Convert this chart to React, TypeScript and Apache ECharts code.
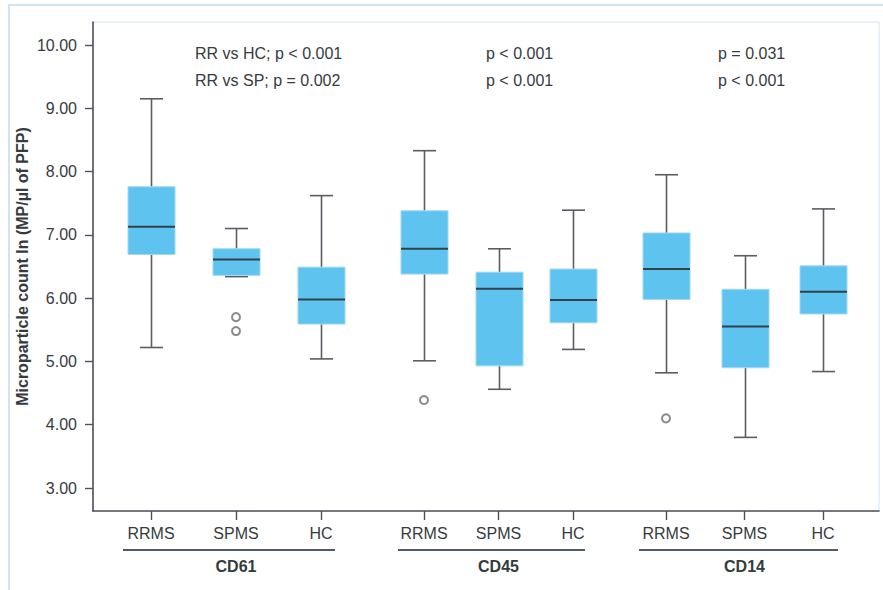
import React, { useEffect, useRef } from "react";
import * as echarts from "echarts";

// ---- data ----
const categories = ["RRMS", "SPMS", "HC"];
const groups = ["CD61", "CD45", "CD14"];
// [min, Q1, median, Q3, max] per category
const cd61Box = [
  [5.22, 6.69, 7.13, 7.76, 9.15],
  [6.34, 6.36, 6.61, 6.78, 7.1],
  [5.04, 5.59, 5.98, 6.49, 7.62],
];
const cd45Box = [
  [5.01, 6.38, 6.78, 7.38, 8.33],
  [4.56, 4.93, 6.15, 6.41, 6.78],
  [5.19, 5.61, 5.97, 6.46, 7.39],
];
const cd14Box = [
  [4.82, 5.98, 6.46, 7.03, 7.95],
  [3.8, 4.9, 5.55, 6.14, 6.67],
  [4.84, 5.75, 6.1, 6.51, 7.41],
];
// outliers: [category, value]
const cd61Outliers: [string, number][] = [["SPMS", 5.7], ["SPMS", 5.48]];
const cd45Outliers: [string, number][] = [["RRMS", 4.39]];
const cd14Outliers: [string, number][] = [["RRMS", 4.1]];
const yTicks = { min: 3, max: 10, interval: 1 };
const yAxisTitle = "Microparticle count ln (MP/µl of PFP)";
const pValueLines = [
  ["RR vs HC; p < 0.001", "RR vs SP; p = 0.002"],
  ["p < 0.001", "p < 0.001"],
  ["p = 0.031", "p < 0.001"],
];

const boxes = [cd61Box, cd45Box, cd14Box];
const outliers = [cd61Outliers, cd45Outliers, cd14Outliers];

// ---- layout / style ----
const FONT = "'Liberation Sans', Arial, Helvetica, sans-serif";
const FS = 16;
const TEXT = "#353b40";
const AXIS = "#4f5257";
const BOX_FILL = "#5ec3ee";
const BOX_STROKE = "#9fd8f4";
const WHISKER = "#5a5d61";
const MEDIAN = "#33414b";
const FRAME = "#d3e3f2";

const PLOT = { left: 93, top: 22, right: 879, bottom: 511 };
const YGRID = { top: 45, bottom: 488 };
const subGrids = [
  { left: 108.5, width: 255 },
  { left: 386.75, width: 223.5 },
  { left: 626.75, width: 235.5 },
];
const underlines = [
  [123, 335],
  [398, 585],
  [639, 838],
];
const annotationX = [195, 486, 718];
const annotationY = [53, 80.5];

const renderBox = (_params: any, api: any) => {
  const x = api.value(0);
  const lo = api.coord([x, api.value(1)]);
  const q1 = api.coord([x, api.value(2)]);
  const med = api.coord([x, api.value(3)]);
  const q3 = api.coord([x, api.value(4)]);
  const hi = api.coord([x, api.value(5)]);
  const cx = Math.round(lo[0]) + 0.5;
  const bw = 47;
  const cw = 23;
  const ws = { stroke: WHISKER, lineWidth: 1.6 };
  return {
    type: "group",
    children: [
      { type: "line", shape: { x1: cx, y1: hi[1], x2: cx, y2: q3[1] }, style: ws },
      { type: "line", shape: { x1: cx, y1: q1[1], x2: cx, y2: lo[1] }, style: ws },
      { type: "line", shape: { x1: cx - cw / 2, y1: hi[1], x2: cx + cw / 2, y2: hi[1] }, style: ws },
      { type: "line", shape: { x1: cx - cw / 2, y1: lo[1], x2: cx + cw / 2, y2: lo[1] }, style: ws },
      {
        type: "rect",
        shape: { x: cx - bw / 2, y: q3[1], width: bw, height: q1[1] - q3[1] },
        style: { fill: BOX_FILL, stroke: BOX_STROKE, lineWidth: 1 },
      },
      {
        type: "line",
        shape: { x1: cx - bw / 2, y1: med[1], x2: cx + bw / 2, y2: med[1] },
        style: { stroke: MEDIAN, lineWidth: 2 },
      },
    ],
  };
};

export default function App() {
  const ref = useRef<HTMLDivElement>(null);
  useEffect(() => {
    if (!ref.current) return;
    const chart = echarts.init(ref.current, undefined, { renderer: "svg" });

    const grids: any[] = [
      // 0: frame
      {
        left: PLOT.left,
        top: PLOT.top,
        width: PLOT.right - PLOT.left,
        height: PLOT.bottom - PLOT.top,
        show: true,
        borderColor: FRAME,
        borderWidth: 1,
        backgroundColor: "transparent",
      },
      // 1: y labels
      {
        left: PLOT.left,
        top: YGRID.top,
        width: PLOT.right - PLOT.left,
        height: YGRID.bottom - YGRID.top,
      },
    ];
    subGrids.forEach((g) =>
      grids.push({ left: g.left, width: g.width, top: YGRID.top, height: YGRID.bottom - YGRID.top })
    );

    const hiddenAxis = {
      axisLine: { show: false },
      axisTick: { show: false },
      axisLabel: { show: false },
      splitLine: { show: false },
    };

    const xAxes: any[] = [
      {
        gridIndex: 0,
        type: "value",
        axisLine: { show: true, onZero: false, lineStyle: { color: AXIS, width: 1.6 } },
        axisTick: { show: false },
        axisLabel: { show: false },
        splitLine: { show: false },
      },
      { gridIndex: 1, type: "value", ...hiddenAxis },
    ];
    const yAxes: any[] = [
      {
        gridIndex: 0,
        type: "value",
        axisLine: { show: true, onZero: false, lineStyle: { color: AXIS, width: 1.6 } },
        axisTick: { show: false },
        axisLabel: { show: false },
        splitLine: { show: false },
      },
      {
        gridIndex: 1,
        type: "value",
        min: yTicks.min,
        max: yTicks.max,
        interval: yTicks.interval,
        axisLine: { show: false },
        axisTick: { show: true, length: 8, lineStyle: { color: AXIS, width: 1.4 } },
        axisLabel: {
          margin: 16,
          fontSize: FS,
          fontFamily: FONT,
          color: TEXT,
          formatter: (v: number) => v.toFixed(2),
        },
        splitLine: { show: false },
        name: yAxisTitle,
        nameLocation: "middle",
        nameGap: 63,
        nameMoveOverlap: false,
        nameTextStyle: { fontSize: FS, fontWeight: "bold", fontFamily: FONT, color: TEXT },
      },
    ];

    const series: any[] = [];
    groups.forEach((name, i) => {
      const gi = i + 2;
      xAxes.push({
        gridIndex: gi,
        type: "category",
        data: categories,
        offset: PLOT.bottom - YGRID.bottom,
        axisLine: { show: false },
        axisTick: { show: true, alignWithLabel: true, length: 9, lineStyle: { color: AXIS, width: 1.4 } },
        axisLabel: { margin: 14, fontSize: FS, fontFamily: FONT, color: TEXT },
        splitLine: { show: false },
        name,
        nameLocation: "middle",
        nameGap: 47,
        nameTextStyle: { fontSize: FS, fontWeight: "bold", fontFamily: FONT, color: TEXT },
      });
      yAxes.push({
        gridIndex: gi,
        type: "value",
        min: yTicks.min,
        max: yTicks.max,
        interval: yTicks.interval,
        ...hiddenAxis,
      });
      series.push({
        type: "custom",
        xAxisIndex: gi,
        yAxisIndex: gi,
        renderItem: renderBox,
        encode: { x: 0, y: [1, 2, 3, 4, 5] },
        data: boxes[i].map((b, ci) => [ci, ...b]),
        clip: false,
      });
      series.push({
        type: "scatter",
        xAxisIndex: gi,
        yAxisIndex: gi,
        symbol: "emptyCircle",
        symbolSize: 8,
        z: 5,
        itemStyle: { color: "#6b6e72", borderColor: "#6b6e72", borderWidth: 1.2 },
        data: outliers[i],
      });
    });

    const graphic: any[] = [
      {
        type: "rect",
        shape: { x: 9, y: 5, width: 1000, height: 700 },
        style: { fill: "none", stroke: FRAME, lineWidth: 2 },
        silent: true,
      },
    ];
    underlines.forEach(([x1, x2]) =>
      graphic.push({
        type: "line",
        shape: { x1, y1: 550, x2, y2: 550 },
        style: { stroke: "#4f5c68", lineWidth: 2 },
      })
    );
    pValueLines.forEach((lines, i) =>
      lines.forEach((t, j) =>
        graphic.push({
          type: "text",
          x: annotationX[i],
          y: annotationY[j],
          style: {
            text: t,
            font: `${FS}px ${FONT}`,
            fill: TEXT,
            textVerticalAlign: "middle",
            verticalAlign: "middle",
          },
        })
      )
    );

    chart.setOption({
      animation: false,
      backgroundColor: "#fff",
      grid: grids,
      xAxis: xAxes,
      yAxis: yAxes,
      series,
      graphic,
    });
    return () => chart.dispose();
  }, []);

  return (
    <div
      ref={ref}
      style={{ position: "fixed", left: 0, top: 0, width: 883, height: 590 }}
    />
  );
}
